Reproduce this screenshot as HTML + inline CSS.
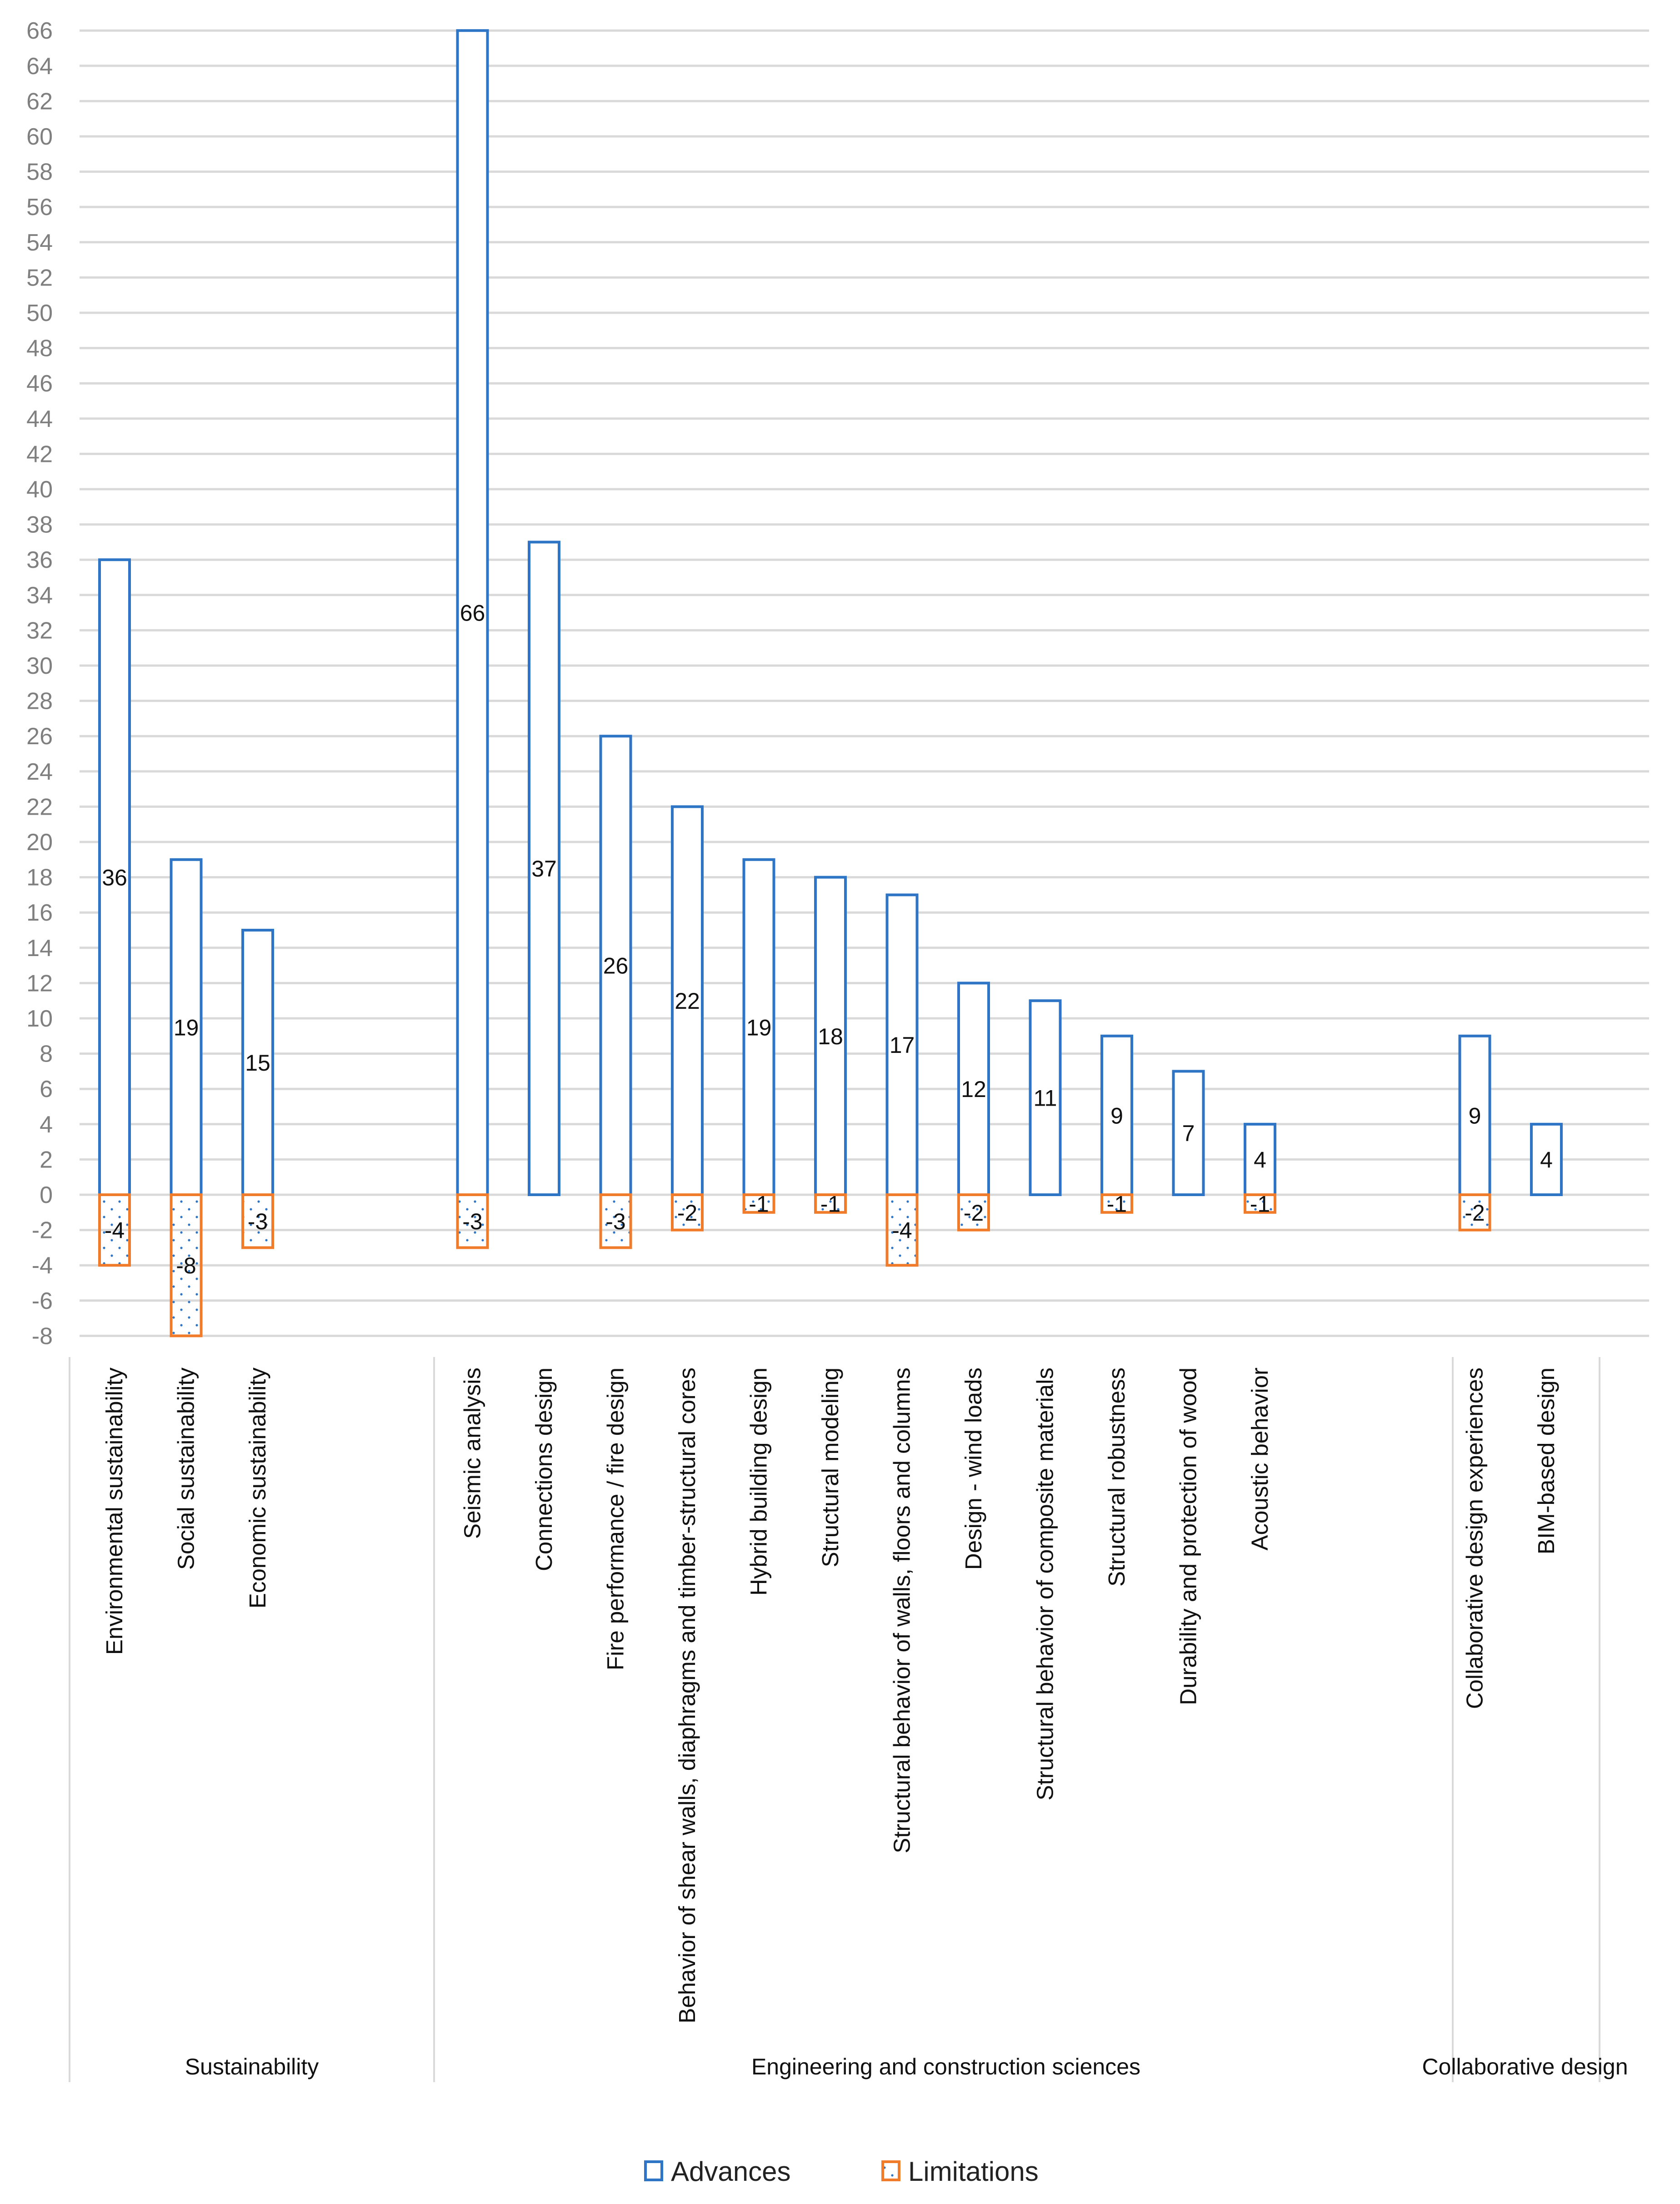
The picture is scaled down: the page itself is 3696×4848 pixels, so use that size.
<!DOCTYPE html>
<html><head><meta charset="utf-8"><style>
html,body{margin:0;padding:0;background:#fff;}
svg{display:block;}
text{font-family:"Liberation Sans",sans-serif;}
</style></head><body>
<svg id="chart" width="3696" height="4848" viewBox="0 0 3696 4848" xmlns="http://www.w3.org/2000/svg">
<defs>
<pattern id="dots" width="34" height="34" patternUnits="userSpaceOnUse">
<circle cx="8" cy="8" r="2.6" fill="#2e75c6"/><circle cx="25" cy="25" r="2.6" fill="#2e75c6"/>
</pattern>
</defs>
<g id="grid"></g><g id="yticks"></g><g id="bars"></g><g id="vals"></g><g id="cats"></g><g id="groups"></g>
<g>
<g>
<rect x="1420" y="4755" width="36" height="40" fill="#fff" stroke="#2e75c6" stroke-width="6"/>
<text x="1476" y="4797" font-size="60" fill="#222">Advances</text></g>
<g>
<rect x="1942" y="4755" width="36" height="40" fill="url(#dots)" stroke="#f07c2b" stroke-width="6"/>
<text x="1998" y="4797" font-size="60" fill="#222">Limitations</text></g>
</g>
</svg>
<script>
const categories=["Environmental sustainability","Social sustainability","Economic sustainability","Seismic analysis","Connections design","Fire performance / fire design","Behavior of shear walls, diaphragms and timber-structural cores","Hybrid building design","Structural modeling","Structural behavior of walls, floors and columns","Design - wind loads","Structural behavior of composite materials","Structural robustness","Durability and protection of wood","Acoustic behavior","Collaborative design experiences","BIM-based design"];
const slots=[0,1,2,5,6,7,8,9,10,11,12,13,14,15,16,19,20];
const advances=[36,19,15,66,37,26,22,19,18,17,12,11,9,7,4,9,4];
const limitations=[-4,-8,-3,-3,0,-3,-2,-1,-1,-4,-2,0,-1,0,-1,-2,0];
const yTicks=[66,64,62,60,58,56,54,52,50,48,46,44,42,40,38,36,34,32,30,28,26,24,22,20,18,16,14,12,10,8,6,4,2,0,-2,-4,-6,-8];
const groupNames=["Sustainability","Engineering and construction sciences","Collaborative design"];

const NS="http://www.w3.org/2000/svg";
const y=v=>2628-38.8*v;
const x=s=>252+157.5*s;
const BW=66;
function mk(tag,attrs,parent,txt){const e=document.createElementNS(NS,tag);for(const k in attrs)e.setAttribute(k,attrs[k]);if(txt!==undefined)e.textContent=txt;document.getElementById(parent).appendChild(e);return e;}

yTicks.forEach(t=>{
  const l=mk('line',{x1:175,x2:3628,y1:y(t),y2:y(t),stroke:'#d9d9d9','stroke-width':5},'grid');
  
  
  const tx=mk('text',{x:116,y:y(t)+18,'font-size':52,fill:'#7f7f7f','text-anchor':'end'},'yticks',String(t));
  
  
});

categories.forEach((c,i)=>{
  const cx=x(slots[i]);
  const a=advances[i];
  if(a!==0){
    const r=mk('rect',{x:cx-BW/2,y:y(a),width:BW,height:y(0)-y(a),fill:'#fff',stroke:'#2e75c6','stroke-width':6},'bars');
    
    
    const t=mk('text',{x:cx,y:y(a/2)+18,'font-size':50,fill:'#111','text-anchor':'middle'},'vals',String(a));
    
    
  }
  const lv=limitations[i];
  if(lv!==0){
    const r=mk('rect',{x:cx-BW/2,y:y(0),width:BW,height:y(lv)-y(0),fill:'url(#dots)',stroke:'#f07c2b','stroke-width':6},'bars');
    
    
    const t=mk('text',{x:cx,y:y(lv/2)+18,'font-size':50,fill:'#111','text-anchor':'middle'},'vals',String(lv));
    
    
  }
  const ct=mk('text',{x:0,y:0,'font-size':51,fill:'#111','text-anchor':'end',transform:`translate(${cx+17},3008) rotate(-90)`},'cats',c);
  
  
});

[153,955,3196,3519].forEach(dx=>{
  const l=mk('line',{x1:dx,x2:dx,y1:2985,y2:4580,stroke:'#d9d9d9','stroke-width':4},'groups');
  
  
});
[554,2081,3355].forEach((gx,i)=>{
  const t=mk('text',{x:gx,y:4563,'font-size':50,fill:'#111','text-anchor':'middle'},'groups',groupNames[i]);
  
  
});
</script>
</body></html>
